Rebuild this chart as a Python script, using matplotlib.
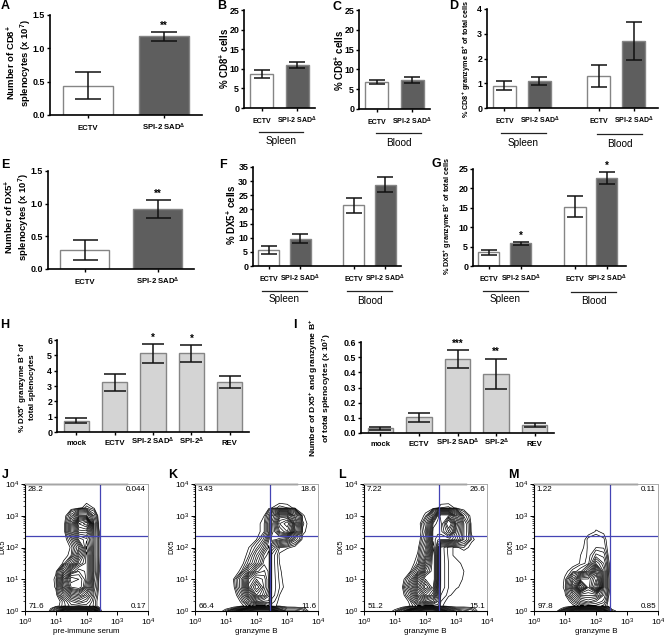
"""Multi-panel figure: bar charts A-I and flow cytometry contour plots J-M."""
import numpy as np
import matplotlib
matplotlib.use("Agg")
import matplotlib.pyplot as plt

W, H = 664, 635
plt.rcParams["font.family"] = ["Liberation Sans", "DejaVu Sans"]
plt.rcParams["mathtext.fontset"] = "custom"
plt.rcParams["mathtext.rm"] = "Liberation Sans"
plt.rcParams["mathtext.bf"] = "Liberation Sans:bold"
plt.rcParams["mathtext.default"] = "regular"

WHITE, DARK, LIGHT = "#ffffff", "#5e5e5e", "#d4d4d4"
EDGE = "#858585"
GATE = "#4444b4"

# ---- bar data ----
SAD = "SPI-2 SAD$^{\\Delta}$"
TWO_CATS = ["ECTV", SAD]
FOUR_CATS = ["ECTV", SAD, "ECTV", SAD]
FIVE_CATS = ["mock", "ECTV", SAD, "SPI-2$^{\\Delta}$", "REV"]

a_vals, a_err = [0.44, 1.18], [0.205, 0.065]
b_vals, b_err = [8.7, 11.0], [1.1, 0.8]
c_vals, c_err = [6.9, 7.3], [0.5, 0.8]
d_vals, d_err = [0.9, 1.1, 1.3, 2.72], [0.18, 0.17, 0.45, 0.77]
e_vals, e_err = [0.29, 0.92], [0.15, 0.14]
f_vals, f_err = [5.6, 9.6, 21.4, 28.7], [1.4, 1.6, 2.6, 2.65]
g_vals, g_err = [3.6, 5.8, 15.3, 22.7], [0.65, 0.35, 2.8, 1.5]
h_vals, h_err = [0.75, 3.23, 5.13, 5.13, 3.27], [0.15, 0.53, 0.62, 0.55, 0.37]
i_vals, i_err = [0.03, 0.105, 0.487, 0.39, 0.053], [0.01, 0.03, 0.06, 0.10, 0.014]

# ---- contour data: density read by eye on a log10 grid ----
grid_x = [0.75, 1, 1.25, 1.5, 1.75, 2, 2.25, 2.4, 2.5, 2.75, 3, 3.25, 3.5, 3.75]
grid_y = [0, 0.08, 0.16, 0.3, 0.5, 0.75, 1, 1.25, 1.5, 1.75, 2, 2.25, 2.5, 2.75, 3, 3.25, 3.5]
levels = [0.5, 0.8, 1.2, 1.7, 2.3, 3, 3.7, 4.4, 5.1, 5.8, 6.5, 7.2, 7.9, 8.6, 9.3, 10, 11, 12, 13]

j_density = [
    [.2, 3, 9, 10, 10, 10, 9, 3, 0, 0, 0, 0, 0, 0],
    [.1, 1.5, 5, 6, 6, 6, 5, 1, 0, 0, 0, 0, 0, 0],
    [0, .2, 1, 2, 2, 2, 1, .1, 0, 0, 0, 0, 0, 0],
    [0, 0, 1, 3, 4, 3, 1, .1, 0, 0, 0, 0, 0, 0],
    [0, .2, 3, 6, 7, 5, 1.5, .2, 0, 0, 0, 0, 0, 0],
    [0, .6, 6, 11, 12, 8, 2, .4, 0, 0, 0, 0, 0, 0],
    [0, .7, 7, 13, 12, 9, 2.5, .5, 0, 0, 0, 0, 0, 0],
    [0, .3, 4, 8, 10, 9, 3, .6, 0, 0, 0, 0, 0, 0],
    [0, 0, .6, 3, 7, 9, 3, .7, 0, 0, 0, 0, 0, 0],
    [0, 0, .2, .8, 5, 9, 3, .8, 0, 0, 0, 0, 0, 0],
    [0, 0, 0, .6, 3, 8, 3, .8, 0, 0, 0, 0, 0, 0],
    [0, 0, 0, 1.5, 6, 7, 3, .8, 0, 0, 0, 0, 0, 0],
    [0, 0, 0, 4, 9, 9, 3, .6, 0, 0, 0, 0, 0, 0],
    [0, 0, 0, 4, 11, 13, 3, .3, 0, 0, 0, 0, 0, 0],
    [0, 0, 0, 2, 6, 6, 2, 0, 0, 0, 0, 0, 0, 0],
    [0, 0, 0, 0, .2, 1, .4, 0, 0, 0, 0, 0, 0, 0],
    [0, 0, 0, 0, 0, 0, 0, 0, 0, 0, 0, 0, 0, 0],
]
k_density = [
    [0, 1, 4, 8, 10, 11, 11, 11, 9, 5, 2, 2, 1.5, 0],
    [0, .3, 1, 3, 6, 7, 7, 7, 5, 2, 1, 1, .7, 0],
    [0, 0, 0, .3, 1, 2, 2, 3, .6, .4, .1, 0, 0, 0],
    [0, 0, 0, .6, 3, 6, 5, 5, 1, .3, 0, 0, 0, 0],
    [0, 0, 0, 1.5, 6, 10, 8, 6, 1.5, .5, 0, 0, 0, 0],
    [0, 0, .3, 3, 9, 13, 9, 7, 1.5, .8, .1, 0, 0, 0],
    [0, 0, .5, 3, 8, 10, 9, 7, 1.5, .7, 0, 0, 0, 0],
    [0, 0, .1, .7, 4, 7, 8, 7, 1.5, .6, 0, 0, 0, 0],
    [0, 0, 0, .2, 1.5, 4, 7, 7, 1.5, .5, 0, 0, 0, 0],
    [0, 0, 0, .1, .8, 3, 6, 7, 1.5, .4, 0, 0, 0, 0],
    [0, 0, 0, 0, .5, 1.5, 4, 6, 3, .8, .6, .3, 0, 0],
    [0, 0, 0, 0, .2, .5, 2, 5, 7, 6, 5, 2, .3, 0],
    [0, 0, 0, 0, 0, .3, .8, 3, 6, 10, 12, 6, .7, 0],
    [0, 0, 0, 0, 0, .3, .8, 3, 6, 12, 14, 7, .9, .1],
    [0, 0, 0, 0, 0, 0, .5, 2, 5, 9, 9, 5, .6, 0],
    [0, 0, 0, 0, 0, 0, .1, .3, .5, 1, .8, .3, 0, 0],
    [0, 0, 0, 0, 0, 0, 0, 0, 0, 0, 0, 0, 0, 0],
]
l_density = [
    [0, .8, 3, 8, 10, 11, 11, 10, 8, 5, 3, 2, 1.5, 0],
    [0, .2, 1, 3, 6, 7, 7, 6, 4, 2, 1, 1, .8, 0],
    [0, 0, 0, .5, 1.5, 2, 2, 2, .6, .1, .1, .1, 0, 0],
    [0, 0, 0, .7, 4, 6, 5, 3, .8, .2, 0, 0, 0, 0],
    [0, 0, .2, 2, 7, 10, 8, 4, 1.2, .6, .2, 0, 0, 0],
    [0, 0, .5, 4, 9, 14, 10, 5, 1.5, .8, .6, .2, 0, 0],
    [0, 0, .2, 2, 7, 11, 11, 6, 1.5, .8, .8, .4, 0, 0],
    [0, 0, 0, .4, 3, 8, 11, 6, 1.5, .8, .8, .5, 0, 0],
    [0, 0, 0, .1, 1, 6, 11, 6, 1.5, .8, .7, .3, 0, 0],
    [0, 0, 0, 0, .6, 4, 11, 6, 1.5, .7, .3, .1, 0, 0],
    [0, 0, 0, 0, .3, 3, 10, 6, 1.5, .6, .4, .8, .2, 0],
    [0, 0, 0, 0, 0, 2, 9, 8, 8, 8, 6, 3, .7, 0],
    [0, 0, 0, 0, 0, 1.5, 9, 9, 9, 12, 7, 3, .3, 0],
    [0, 0, 0, 0, 0, 2, 8, 9, 9, 15, 8, 3, .2, 0],
    [0, 0, 0, 0, 0, .7, 4, 8, 10, 10, 6, 1.5, .1, 0],
    [0, 0, 0, 0, 0, 0, .1, .4, .8, .9, .3, 0, 0, 0],
    [0, 0, 0, 0, 0, 0, 0, 0, 0, 0, 0, 0, 0, 0],
]
m_density = [
    [.5, 4, 8, 10, 10, 10, 9, 4, 1, 0, 0, 0, 0, 0],
    [.1, 1, 4, 6, 6, 6, 5, 2, .3, 0, 0, 0, 0, 0],
    [0, 0, .3, 1, 1.5, 1.5, 1, .2, 0, 0, 0, 0, 0, 0],
    [0, 0, 1, 3, 4, 3, 2, .3, 0, 0, 0, 0, 0, 0],
    [0, .4, 3, 6, 6, 6, 3, .6, 0, 0, 0, 0, 0, 0],
    [0, .7, 6, 13, 8, 13, 4, 1, 0, 0, 0, 0, 0, 0],
    [0, .6, 4, 8, 8, 11, 4, 1, 0, 0, 0, 0, 0, 0],
    [0, .3, 1, 1.5, 4, 9, 4, .8, 0, 0, 0, 0, 0, 0],
    [0, 0, 0, .6, 1, 5, 3, .7, 0, 0, 0, 0, 0, 0],
    [0, 0, 0, .5, .9, 2.5, 2, .4, 0, 0, 0, 0, 0, 0],
    [0, 0, 0, .3, .9, 1.2, 1.1, .2, 0, 0, 0, 0, 0, 0],
    [0, 0, 0, 0, 1, 1.1, .9, 0, 0, 0, 0, 0, 0, 0],
    [0, 0, 0, 0, 0, .6, .3, 0, 0, 0, 0, 0, 0, 0],
    [0, 0, 0, 0, 0, 0, 0, 0, 0, 0, 0, 0, 0, 0],
    [0, 0, 0, 0, 0, 0, 0, 0, 0, 0, 0, 0, 0, 0],
    [0, 0, 0, 0, 0, 0, 0, 0, 0, 0, 0, 0, 0, 0],
    [0, 0, 0, 0, 0, 0, 0, 0, 0, 0, 0, 0, 0, 0],
]
gate_x, gate_y = 275, 230

fig = plt.figure(figsize=(W / 100, H / 100), dpi=100)


def axes_px(left, top, right, bottom):
    return fig.add_axes([left / W, 1 - bottom / H, (right - left) / W, (bottom - top) / H])


def label_px(x, y, s, **kw):
    kw.setdefault("ha", "center")
    kw.setdefault("va", "center")
    fig.text(x / W, 1 - y / H, s, **kw)


def bars(box, xs, xend, vals, err, colors, cats, yticks, fmt="%d", cap=6, stars=None, pad=8.4, ts=5.0):
    ax = axes_px(*box)
    ax.bar(xs, vals, 0.66, color=colors, edgecolor=EDGE, linewidth=1)
    ax.errorbar(xs, vals, yerr=err, fmt="none", ecolor="#111111", elinewidth=1.1,
                capsize=cap, capthick=1.1)
    ax.set_xlim(-0.5, xend)
    ax.set_ylim(0, yticks[-1])
    ax.set_xticks(xs)
    ax.set_xticklabels(cats, fontweight="bold", fontsize=ts, va="baseline")
    ax.set_yticks(yticks)
    ax.set_yticklabels([fmt % t for t in yticks], fontweight="bold", fontsize=6.4)
    ax.tick_params(axis="x", length=2.5, width=1, pad=pad)
    ax.tick_params(axis="y", length=2.5, width=1, pad=1)
    ax.spines[["top", "right"]].set_visible(False)
    ax.spines[["left", "bottom"]].set_linewidth(1.2)
    for i, mark in (stars or {}).items():
        ax.annotate(mark, (xs[i], vals[i] + err[i]), xytext=(0, 1), textcoords="offset points",
                    ha="center", va="bottom", fontsize=7, fontweight="bold", annotation_clip=False)
    return ax


def group_line(x0, x1, y, name, ty):
    fig.add_artist(plt.Line2D([x0 / W, x1 / W], [1 - y / H] * 2, color="#222222", lw=0.9))
    label_px((x0 + x1) / 2, ty, name, fontsize=7.2)


def flow(box, density, xlabel, quads, ylab_x):
    ax = axes_px(*box)
    xx, yy = 10.0 ** np.array(grid_x), 10.0 ** np.array(grid_y)
    ax.contour(xx, yy, np.array(density), levels=levels, colors="black", linewidths=0.5)
    ax.axvline(gate_x, color=GATE, lw=0.9)
    ax.axhline(gate_y, color=GATE, lw=0.9)
    ax.set_xscale("log")
    ax.set_yscale("log")
    ax.set_xlim(1, 1e4)
    ax.set_ylim(1, 1e4)
    ax.set_xticks([1, 10, 100, 1000, 10000])
    ax.set_yticks([1, 10, 100, 1000, 10000])
    ax.tick_params(which="major", length=3, width=0.7, labelsize=6.0, pad=1.2)
    ax.tick_params(which="minor", length=1.5, width=0.5)
    for side in ("top", "right"):
        ax.spines[side].set_color("#aaaaaa")
        ax.spines[side].set_linewidth(0.7)
    ax.spines[["left", "bottom"]].set_linewidth(0.8)
    ax.plot([0, 0.83], [1, 1], transform=ax.transAxes, color="#222222", lw=1, clip_on=False)
    ax.set_xlabel(xlabel, fontsize=5.8, labelpad=0)
    tl, tr, bl, br = quads
    ax.text(0.02, 0.955, tl, transform=ax.transAxes, fontsize=5.8, va="center")
    ax.text(0.985, 0.955, tr, transform=ax.transAxes, fontsize=5.8, va="center", ha="right")
    ax.text(0.03, 0.035, bl, transform=ax.transAxes, fontsize=5.8, va="center")
    ax.text(0.985, 0.035, br, transform=ax.transAxes, fontsize=5.8, va="center", ha="right")
    label_px(ylab_x, (box[1] + box[3]) / 2 - 1, "DX5", rotation=90, fontsize=5.4)


# ---- top row ----
bars((50, 15, 202, 115), [0, 1], 1.5, a_vals, a_err, [WHITE, DARK], TWO_CATS, [0, 0.5, 1.0, 1.5],
     fmt="%.1f", cap=9.5, stars={1: "**"}, ts=5.6)
bars((244, 10, 315, 108), [0, 1], 1.5, b_vals, b_err, [WHITE, DARK], TWO_CATS, [0, 5, 10, 15, 20, 25])
bars((359, 10, 430, 109), [0, 1], 1.5, c_vals, c_err, [WHITE, DARK], TWO_CATS, [0, 5, 10, 15, 20, 25])
bars((487, 9, 658, 108), [0, 1, 2.7, 3.7], 4.4, d_vals, d_err, [WHITE, DARK] * 2, FOUR_CATS, [0, 1, 2, 3, 4])

# ---- second row ----
bars((48, 171, 194, 269), [0, 1], 1.5, e_vals, e_err, [WHITE, DARK], TWO_CATS, [0, 0.5, 1.0, 1.5],
     fmt="%.1f", cap=9, stars={1: "**"}, ts=5.6)
bars((253, 167, 401, 266), [0, 1, 2.7, 3.7], 4.2, f_vals, f_err, [WHITE, DARK] * 2, FOUR_CATS,
     [0, 5, 10, 15, 20, 25, 30, 35])
bars((473, 169, 626, 266), [0, 1, 2.7, 3.7], 4.3, g_vals, g_err, [WHITE, DARK] * 2, FOUR_CATS,
     [0, 5, 10, 15, 20, 25], stars={1: "*", 3: "*"})

# ---- third row ----
five = [0, 1, 2, 3, 4]
bars((57, 340, 249, 432), five, 4.5, h_vals, h_err, [LIGHT] * 5, FIVE_CATS, [0, 1, 2, 3, 4, 5, 6],
     cap=8, stars={2: "*", 3: "*"}, pad=6.6, ts=5.6)
bars((361, 342, 554, 433), five, 4.5, i_vals, i_err, [LIGHT] * 5, FIVE_CATS,
     [0, 0.1, 0.2, 0.3, 0.4, 0.5, 0.6], fmt="%.1f", cap=8, stars={2: "***", 3: "**"}, pad=6.6, ts=5.6)

# ---- flow panels ----
flow((25, 484, 148, 611), j_density, "pre-immune serum", ("28.2", "0.044", "71.6", "0.17"), 3)
flow((195, 484, 318, 611), k_density, "granzyme B", ("3.43", "18.6", "66.4", "11.6"), 172)
flow((364, 484, 487, 611), l_density, "granzyme B", ("7.22", "26.6", "51.2", "15.1"), 341)
flow((534, 484, 658, 611), m_density, "granzyme B", ("1.22", "0.11", "97.8", "0.85"), 511)

# ---- y labels ----
bold = dict(rotation=90, fontweight="bold", linespacing=1.05)
label_px(19, 63, "Number of CD8$^{+}$\nsplenocytes (x 10$^{7}$)", fontsize=6.8, **bold)
label_px(224, 58, "% CD8$^{+}$ cells", fontsize=7, **bold)
label_px(339, 60, "% CD8$^{+}$ cells", fontsize=7, **bold)
label_px(467, 59, "% CD8$^{+}$ granzyme B$^{+}$ of total cells", fontsize=5.2, **bold)
label_px(17, 217, "Number of DX5$^{+}$\nsplenocytes (x 10$^{7}$)", fontsize=6.8, **bold)
label_px(231, 215, "% DX5$^{+}$ cells", fontsize=7, **bold)
label_px(448, 216, "% DX5$^{+}$ granzyme B$^{+}$ of total cells", fontsize=5.2, **bold)
label_px(26, 387, "% DX5$^{+}$ granzyme B$^{+}$ of\ntotal splenocytes", fontsize=5.8, **bold)
label_px(321, 388, "Number of DX5$^{+}$ and granzyme B$^{+}$\nof total splenocytes (x 10$^{7}$)",
         fontsize=6.1, **bold)

# ---- group lines ----
group_line(259, 303, 132, "Spleen", 141)
group_line(376, 421, 133, "Blood", 143)
group_line(501, 546, 133, "Spleen", 143)
group_line(597, 642, 134, "Blood", 144)
group_line(262, 307, 291, "Spleen", 299)
group_line(347, 392, 291, "Blood", 301)
group_line(483, 528, 291, "Spleen", 299)
group_line(571, 616, 292, "Blood", 301)

# ---- panel letters ----
for x, y, s in [(5, 6, "A"), (222, 6, "B"), (337, 7, "C"), (454, 6, "D"), (5, 165, "E"),
                (223, 165, "F"), (436, 164, "G"), (5, 325, "H"), (295, 325, "I"),
                (5, 475, "J"), (173, 475, "K"), (342, 475, "L"), (513, 475, "M")]:
    label_px(x, y, s, fontsize=9, fontweight="bold")

fig.savefig("out.png", dpi=100)
